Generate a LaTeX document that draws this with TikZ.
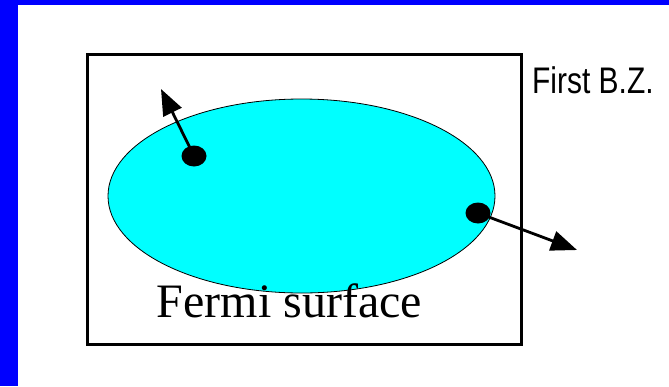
\documentclass[tikz,border=0pt]{standalone}
\usepackage{fontspec}
\setmainfont{Liberation Serif}
\newfontfamily\bzfont{Liberation Sans}
\usetikzlibrary{positioning,arrows.meta,shapes.geometric}
\definecolor{slideBlue}{RGB}{0,0,255}
\definecolor{fermiCyan}{RGB}{0,255,255}

\begin{document}
\begin{tikzpicture}[x=1pt,y=-1pt,
    electron/.style={ellipse,fill=black,minimum width=25pt,minimum height=21pt,inner sep=0pt},
    velocity/.style={line width=2.8pt,-{Triangle[length=26pt,width=20pt]}}]
        \useasboundingbox (0,0) rectangle (669,386);
        % slide frame
        \fill[white] (0,0) rectangle (669,386);
        \fill[slideBlue] (0,0) rectangle (18,386);
        \fill[slideBlue] (0,0) rectangle (669,5);
        % zone and Fermi surface
        \node[draw,line width=3pt,minimum width=434pt,minimum height=290pt,inner sep=0pt] (bz) at (304,199) {};
        \node[ellipse,draw,line width=0.8pt,fill=fermiCyan,minimum width=387pt,minimum height=194pt,inner sep=0pt] (fs) at (301.5,196) {};
        \node[anchor=base,font=\fontsize{48}{52}\selectfont] (fslbl) at (289.5,317) {Fermi surface};
        \node[anchor=base west,inner sep=0pt,xscale=0.81,font=\bzfont\fontsize{37}{42}\selectfont] (bzlbl) at (532,93) {First B.Z.};
        % electrons on the surface
        \node[electron] (e1) at (194,156) {};
        \node[electron] (e2) at (478,213) {};
        \coordinate (v1) at (161,89);
        \coordinate (v2) at (577,250);
        \draw[velocity] (e1.center) -- (v1);
        \draw[velocity] (e2.center) -- (v2);
      \end{tikzpicture}
\end{document}
